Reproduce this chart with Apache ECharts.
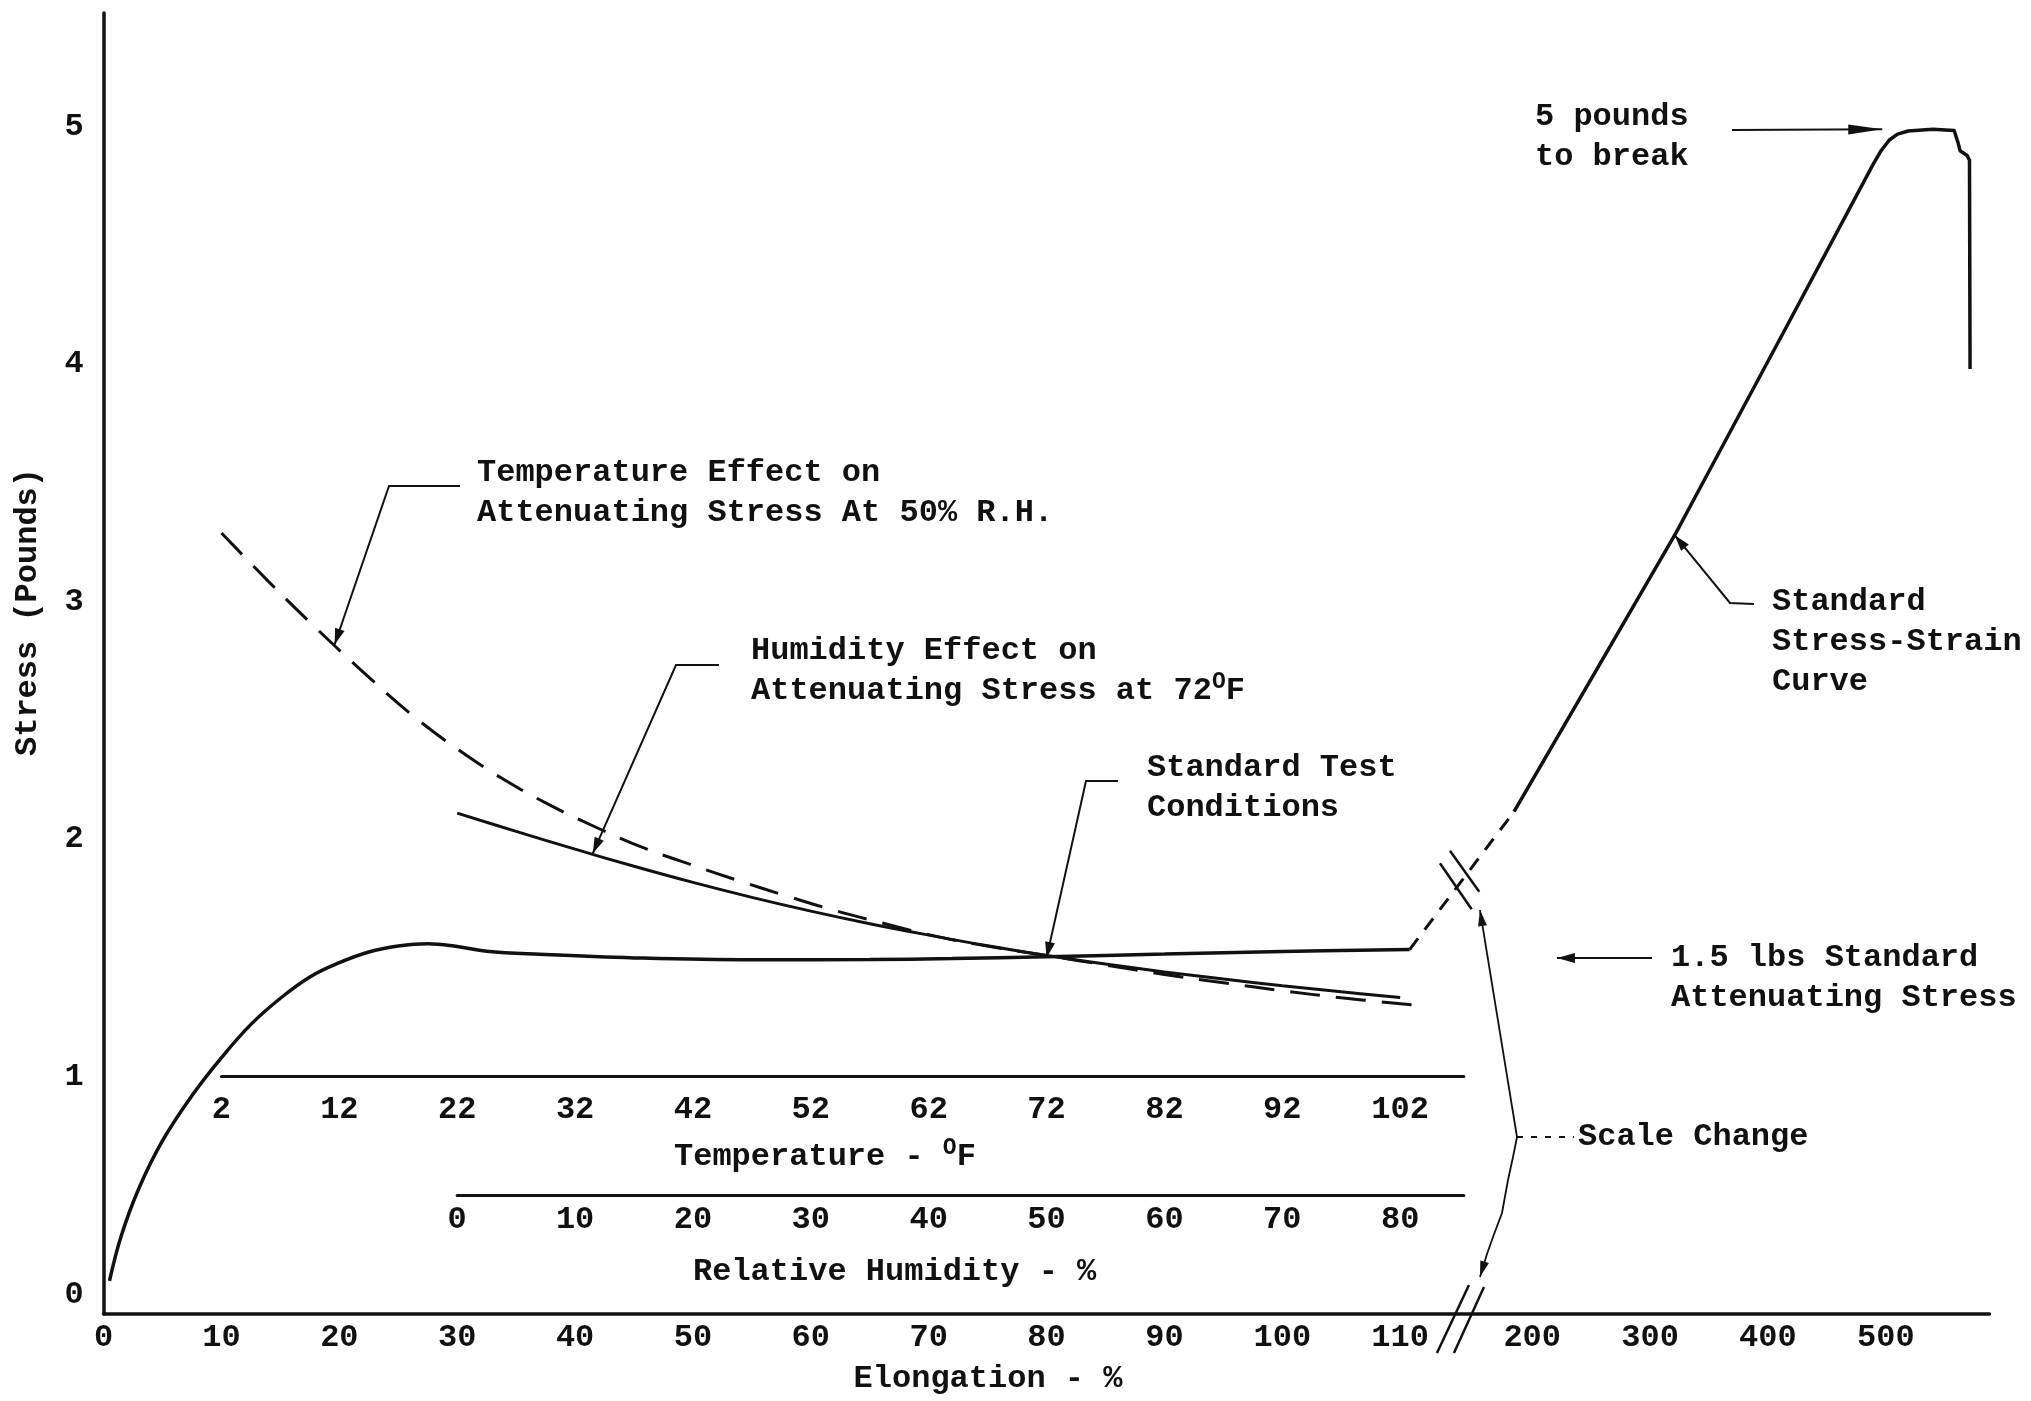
<!DOCTYPE html>
<html>
<head>
<meta charset="utf-8">
<title>Attenuating Stress – Stress vs Elongation</title>
<script src="https://cdn.jsdelivr.net/npm/echarts@6/dist/echarts.min.js"></script>
<style>
  html, body { margin: 0; padding: 0; background: #fff; }
  #chart { width: 2031px; height: 1401px; }
</style>
</head>
<body>
<div id="chart"></div>
<script>
// ---------------------------------------------------------------------------
// Data
// ---------------------------------------------------------------------------
// Standard stress-strain curve, [elongation %, stress lb], up to 110 %
const strainLow = [
  [0.5, 0.14], [1.5, 0.33], [3, 0.53], [5, 0.73], [7.5, 0.92], [10, 1.08],
  [12.5, 1.22], [15, 1.33], [17.5, 1.42], [20, 1.48], [22.5, 1.525], [25, 1.55],
  [27.5, 1.56], [30, 1.548], [32.5, 1.528], [37, 1.515], [45, 1.5], [55, 1.492],
  [65, 1.493], [72, 1.497], [80, 1.505], [90, 1.516], [100, 1.527], [110.8, 1.535]
];
// Standard stress-strain curve beyond the scale change, [elongation %, stress lb]
const strainHigh = [
  [184.6, 2.116], [231, 2.512], [265.5, 2.807], [322, 3.29], [337.5, 3.434], [417, 4.17],
  [489, 4.84], [496, 4.9], [503, 4.945], [510, 4.97], [519, 4.983], [540, 4.99],
  [558, 4.985], [561.5, 4.93], [563, 4.9], [569, 4.88], [571, 4.86], [571.5, 3.98]
];
// Temperature effect on attenuating stress at 50 % R.H., [deg F, stress lb]
const tempEffect = [
  [2, 3.29], [6, 3.085], [10, 2.89], [14, 2.705], [18, 2.53], [22, 2.38], [26, 2.25],
  [30, 2.14], [34, 2.045], [38, 1.96], [42, 1.89], [46, 1.823], [50, 1.76], [54, 1.70],
  [58, 1.648], [62, 1.598], [66, 1.558], [72, 1.51], [77, 1.47], [82, 1.43],
  [87, 1.395], [92, 1.362], [97, 1.332], [103, 1.302]
];
// Humidity effect on attenuating stress at 72 deg F, [% R.H., stress lb]
const humidityEffect = [
  [0, 2.11], [5, 2.033], [10, 1.958], [15, 1.886], [20, 1.818], [25, 1.755], [30, 1.697],
  [35, 1.644], [40, 1.596], [45, 1.551], [50, 1.51], [55, 1.474], [60, 1.441],
  [65, 1.411], [70, 1.383], [75, 1.357], [80, 1.333]
];
// Standard test conditions: 72 deg F, 50 % R.H., 80 % elongation, 1.5 lb
const standardPoint = [80, 1.5];

// Tick labels
const stressTicks = [0, 1, 2, 3, 4, 5];
const elongTicksLow = [0, 10, 20, 30, 40, 50, 60, 70, 80, 90, 100, 110];
const elongTicksHigh = [200, 300, 400, 500];
const tempTicks = [2, 12, 22, 32, 42, 52, 62, 72, 82, 92, 102];
const humidityTicks = [0, 10, 20, 30, 40, 50, 60, 70, 80];

// ---------------------------------------------------------------------------
// Scales and layout
// ---------------------------------------------------------------------------
// The elongation axis changes scale: linear up to the break, then 1/10 scale.
const BREAK_U = 115.2;       // axis position of the scale change
const HIGH_OFFSET = 101.2;   // axis position = HIGH_OFFSET + elongation * HIGH_FACTOR
const HIGH_FACTOR = 0.1;
const toAxis = e => (e <= BREAK_U ? e : HIGH_OFFSET + e * HIGH_FACTOR);
const fromAxis = u => (u <= BREAK_U ? u : (u - HIGH_OFFSET) / HIGH_FACTOR);

const X_MAX = 160, Y_MAX = 5.48;
const GRID_LEFT = 103.6, GRID_TOP = 13;
const PX_PER_X = 11.787, PX_PER_Y = 237.41;

// Secondary scales drawn inside the plot, aligned with the elongation axis
const TEMP_SHIFT = 8, TEMP_MIN = 2, TEMP_MAX = 107.4, TEMP_BASE = 1.0;
const RH_SHIFT = 30, RH_MIN = 0, RH_MAX = 85.4, RH_BASE = 0.5;

const INK = '#111';
const FAMILY = '"Liberation Mono", "DejaVu Sans Mono", monospace';
const FONT = 'bold 32px ' + FAMILY;
const SUP_FONT = 'bold 23px ' + FAMILY;
const tickText = { fontFamily: FAMILY, fontWeight: 'bold', fontSize: 32, color: INK };

const hiddenY = (gridIndex, min) => ({
  gridIndex, type: 'value', min, max: Y_MAX, show: false
});

const innerX = (gridIndex, min, max, ticks, margin) => ({
  gridIndex, type: 'value', min, max, position: 'bottom',
  axisLine: { show: true, onZero: false, lineStyle: { color: INK, width: 3 } },
  axisTick: { show: false },
  splitLine: { show: false },
  axisLabel: Object.assign({}, tickText, { margin, customValues: ticks })
});

const chart = echarts.init(document.getElementById('chart'));

const option = {
  backgroundColor: '#fff',
  animation: false,
  grid: [
    { left: GRID_LEFT, top: GRID_TOP, width: X_MAX * PX_PER_X, height: Y_MAX * PX_PER_Y,
      outerBoundsMode: 'none' },
    { left: GRID_LEFT + (TEMP_MIN + TEMP_SHIFT) * PX_PER_X, top: GRID_TOP,
      width: (TEMP_MAX - TEMP_MIN) * PX_PER_X, height: (Y_MAX - TEMP_BASE) * PX_PER_Y,
      outerBoundsMode: 'none' },
    { left: GRID_LEFT + (RH_MIN + RH_SHIFT) * PX_PER_X, top: GRID_TOP,
      width: (RH_MAX - RH_MIN) * PX_PER_X, height: (Y_MAX - RH_BASE) * PX_PER_Y,
      outerBoundsMode: 'none' }
  ],
  xAxis: [
    {
      gridIndex: 0, type: 'value', min: 0, max: X_MAX,
      axisLine: { show: true, lineStyle: { color: INK, width: 3.5 } },
      axisTick: { show: false },
      splitLine: { show: false },
      axisLabel: Object.assign({}, tickText, {
        margin: 8,
        customValues: elongTicksLow.concat(elongTicksHigh).map(toAxis),
        formatter: v => String(Math.round(fromAxis(v)))
      })
    },
    innerX(1, TEMP_MIN, TEMP_MAX, tempTicks, 17),
    innerX(2, RH_MIN, RH_MAX, humidityTicks, 9)
  ],
  yAxis: [
    {
      gridIndex: 0, type: 'value', min: 0, max: Y_MAX,
      axisLine: { show: true, lineStyle: { color: INK, width: 3.5 } },
      axisTick: { show: false },
      splitLine: { show: false },
      axisLabel: Object.assign({}, tickText, {
        margin: 20,
        customValues: stressTicks,
        formatter: v => (v === 0 ? '{lift|0}' : String(v)),
        rich: { lift: Object.assign({}, tickText, { padding: [0, 0, 38, 0] }) }
      })
    },
    hiddenY(1, TEMP_BASE),
    hiddenY(2, RH_BASE)
  ],
  series: [
    {
      name: 'Standard Stress-Strain Curve', type: 'line', xAxisIndex: 0, yAxisIndex: 0,
      data: strainLow.map(([e, s]) => [toAxis(e), s]),
      symbol: 'none', smooth: 0.4,
      lineStyle: { color: INK, width: 3.5 }
    },
    {
      name: 'Scale change', type: 'line', xAxisIndex: 0, yAxisIndex: 0,
      data: [strainLow[strainLow.length - 1], strainHigh[0]].map(([e, s]) => [toAxis(e), s]),
      symbol: 'none',
      lineStyle: { color: INK, width: 3, type: [14, 11] }
    },
    {
      name: 'Standard Stress-Strain Curve (high elongation)', type: 'line',
      xAxisIndex: 0, yAxisIndex: 0,
      data: strainHigh.map(([e, s]) => [toAxis(e), s]),
      symbol: 'none',
      lineStyle: { color: INK, width: 3.5, join: 'round' }
    },
    {
      name: 'Temperature Effect', type: 'line', xAxisIndex: 1, yAxisIndex: 1,
      data: tempEffect, symbol: 'none', smooth: 0.4,
      lineStyle: { color: INK, width: 3, type: [30, 16] }
    },
    {
      name: 'Humidity Effect', type: 'line', xAxisIndex: 2, yAxisIndex: 2,
      data: humidityEffect, symbol: 'none', smooth: 0.4,
      lineStyle: { color: INK, width: 3 }
    }
  ]
};

chart.setOption(option);

// ---------------------------------------------------------------------------
// Annotations: titles, call-outs, leader arrows and scale-break marks
// ---------------------------------------------------------------------------
const P = (gridIndex, x, y) => chart.convertToPixel({ gridIndex }, [x, y]);
const LINE_GAP = 40;
const SUP_RICH = { sup: { font: SUP_FONT, fill: INK, verticalAlign: 'top', lineHeight: 23 } };

function text(x, yFirst, str, opts) {
  opts = opts || {};
  return {
    type: 'text', x, y: yFirst - LINE_GAP / 2,
    style: {
      text: str, font: FONT, fill: INK, lineHeight: LINE_GAP,
      align: opts.align || 'left', verticalAlign: 'top',
      textAlign: opts.align || 'left', textVerticalAlign: 'top',
      rich: SUP_RICH
    }
  };
}
function line(points, opts) {
  opts = opts || {};
  return {
    type: 'polyline', shape: { points },
    style: { stroke: INK, lineWidth: opts.width || 2, fill: null, lineDash: opts.dash || null }
  };
}
function arrowHead(tip, from, len, half) {
  const dx = tip[0] - from[0], dy = tip[1] - from[1];
  const d = Math.hypot(dx, dy), ux = dx / d, uy = dy / d;
  const bx = tip[0] - ux * len, by = tip[1] - uy * len;
  return {
    type: 'polygon',
    shape: { points: [[tip[0], tip[1]], [bx - uy * half, by + ux * half], [bx + uy * half, by - ux * half]] },
    style: { fill: INK }
  };
}
function leader(points, len, half) {
  const n = points.length;
  return [line(points), arrowHead(points[n - 1], points[n - 2], len || 16, half || 5)];
}

const g = [];

// Axis titles
g.push({
  type: 'text', x: 28, y: 612, rotation: Math.PI / 2,
  style: { text: 'Stress (Pounds)', font: FONT, fill: INK,
    align: 'center', verticalAlign: 'middle', textAlign: 'center', textVerticalAlign: 'middle' }
});
g.push(text(988, 1379, 'Elongation - %', { align: 'center' }));
g.push(text(674, 1157, 'Temperature - {sup|O}F'));
g.push(text(693, 1272, 'Relative Humidity - %'));

// Temperature call-out
g.push(text(477, 473, 'Temperature Effect on\nAttenuating Stress At 50% R.H.'));
g.push(...leader([[460, 486], [389, 486], P(1, 11.6, 2.82)]));

// Humidity call-out
g.push(text(751, 651, 'Humidity Effect on\nAttenuating Stress at 72{sup|O}F'));
g.push(...leader([[719, 665], [676, 665], P(2, 11.5, 1.94)]));

// Standard test conditions
g.push(text(1147, 768, 'Standard Test\nConditions'));
g.push(...leader([[1118, 781], [1086, 781], P(0, standardPoint[0], standardPoint[1])]));

// Breaking load
g.push(text(1535, 117, '5 pounds\nto break'));
g.push(...leader([[1732, 130], P(0, toAxis(497), 4.99)], 34, 5));

// Standard stress-strain curve
g.push(text(1772, 602, 'Standard\nStress-Strain\nCurve'));
g.push(...leader([[1754, 604], [1730, 603], P(0, toAxis(321), 3.28)]));

// Standard attenuating stress
g.push(text(1671, 958, '1.5 lbs Standard\nAttenuating Stress'));
g.push(...leader([[1652, 958], P(0, 123.3, standardPoint[1])], 18, 5));

// Scale-break marks on the curve and on the elongation axis
const lastLow = strainLow[strainLow.length - 1], firstHigh = strainHigh[0];
const uA = toAxis(lastLow[0]), uB = toAxis(firstHigh[0]);
const sBreak = lastLow[1] + (BREAK_U - uA) / (uB - uA) * (firstHigh[1] - lastLow[1]);
const upC = P(0, BREAK_U, sBreak);
const lowC = P(0, BREAK_U, 0);
const rel = (c, dx, dy) => [c[0] + dx, c[1] + dy];
g.push(line([rel(upC, -21.5, -17.8), rel(upC, 10.2, 28.2)], { width: 2.5 }));
g.push(line([rel(upC, -11.5, -30.4), rel(upC, 17.8, 10.6)], { width: 2.5 }));
g.push(line([rel(lowC, 7.5, -29), rel(lowC, -24.5, 39)], { width: 2.5 }));
g.push(line([rel(lowC, 22.5, -27), rel(lowC, -7.5, 39)], { width: 2.5 }));

// Scale change call-out
const junction = [1517, 1137];
const upEnd = rel(upC, 18.5, 29);
const lowEnd = rel(lowC, 18.5, -37);
g.push(text(1578, 1137, 'Scale Change'));
g.push(line([junction, [1574, 1137]], { dash: [6, 8] }));
g.push(line([junction, upEnd], { width: 1.8 }));
g.push(arrowHead(upEnd, junction, 16, 4.5));
const lowPath = [junction, [1513, 1157], [1508, 1180], [1502, 1213], [1493, 1237], [1487, 1254], lowEnd];
g.push(line(lowPath, { width: 1.8 }));
g.push(arrowHead(lowEnd, lowPath[lowPath.length - 2], 16, 4.5));

chart.setOption({ graphic: { elements: g } });
</script>
</body>
</html>
